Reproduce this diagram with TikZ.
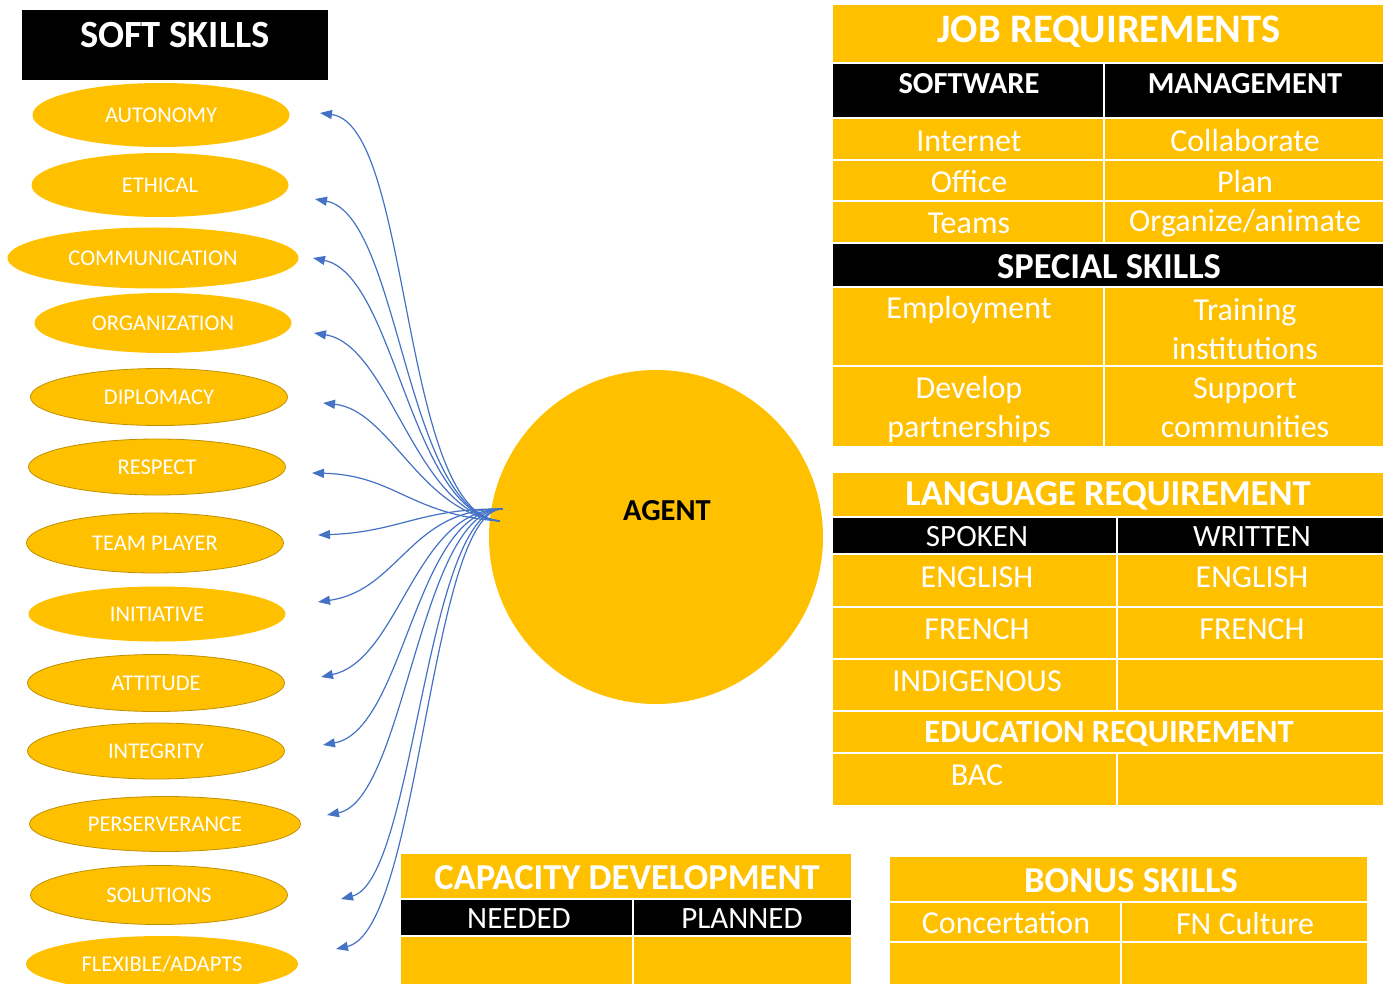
\documentclass[tikz,border=0pt]{standalone}
\usepackage{fontspec}
\setmainfont{Carlito}
\usetikzlibrary{shapes.geometric,arrows.meta}

\definecolor{gold}{HTML}{FFC000}
\definecolor{linkblue}{HTML}{4472C4}
\definecolor{rim}{HTML}{BF9000}

\tikzset{
  skill/.style={ellipse, fill=gold, text=white, inner sep=0pt, minimum width=257pt, minimum height=58pt, font=\fontsize{22.5}{26}\selectfont},
  rimmed/.style={draw=rim, line width=0.8pt},
  title/.style={text=white, font=\bfseries\fontsize{36.5}{40}\selectfont},
  head/.style={text=white, font=\bfseries\fontsize{30.5}{34}\selectfont},
  entry/.style={text=white, align=center, font=\fontsize{32}{39}\selectfont},
  grid/.style={white, line width=1.5pt},
  link/.style={linkblue, line width=1.2pt, -{Triangle[length=12pt,width=9pt]}}
}

\begin{document}
\begin{tikzpicture}[x=1pt,y=-1pt]
\useasboundingbox (0,0) rectangle (1386,984);
\clip (0,0) rectangle (1386,984);

% soft skills column
\fill[black] (22,10) rectangle (328,80);
\node[title, font=\bfseries\fontsize{38.5}{42}\selectfont] (softtitle) at (175,35) {SOFT SKILLS};

\node[skill, minimum height=64pt] (autonomy) at (161,115) {AUTONOMY};
\node[skill, minimum height=64pt] (ethical) at (160,185) {ETHICAL};
\node[skill, minimum width=291pt, minimum height=61pt] (communication) at (153,258) {COMMUNICATION};
\node[skill, minimum height=60pt] (organization) at (163,323) {ORGANIZATION};
\node[skill, rimmed, minimum height=57pt] (diplomacy) at (159,397) {DIPLOMACY};
\node[skill, rimmed, minimum height=56pt] (respect) at (157,467) {RESPECT};
\node[skill, rimmed, minimum height=60pt] (teamplayer) at (155,543) {TEAM PLAYER};
\node[skill, minimum height=55pt] (initiative) at (157,614) {INITIATIVE};
\node[skill, rimmed, minimum height=57pt] (attitude) at (156,683) {ATTITUDE};
\node[skill, rimmed, minimum height=56pt] (integrity) at (156,751) {INTEGRITY};
\node[skill, rimmed, minimum width=271pt, minimum height=55pt] (perserverance) at (165,824) {PERSERVERANCE};
\node[skill, rimmed, minimum height=59pt] (solutions) at (159,895) {SOLUTIONS};
\node[skill, minimum width=272pt, minimum height=56pt] (flexible) at (162,964) {FLEXIBLE/ADAPTS};

% job requirements
\fill[gold] (833,5) rectangle (1383,446);
\fill[black] (833,63) rectangle (1383,118);
\fill[black] (833,243) rectangle (1383,287);
\draw[grid] (833,63) -- (1383,63) (833,118) -- (1383,118) (833,160) -- (1383,160)
  (833,201) -- (1383,201) (833,243) -- (1383,243) (833,287) -- (1383,287) (833,366) -- (1383,366);
\draw[grid] (1104,63) -- (1104,243) (1104,287) -- (1104,446);
\node[title, font=\bfseries\fontsize{40.5}{44}\selectfont] (jobtitle) at (1109,32) {JOB REQUIREMENTS};
\node[head] (software) at (969,84) {SOFTWARE};
\node[head] (management) at (1245,84) {MANAGEMENT};
\node[entry] (internet) at (969,141) {Internet};
\node[entry] (collaborate) at (1245,141) {Collaborate};
\node[entry] (office) at (969,182) {Office};
\node[entry] (plan) at (1245,182) {Plan};
\node[entry] (teams) at (969,223) {Teams};
\node[entry] (organize) at (1245,223) {Organize/animate};
\node[head, font=\bfseries\fontsize{36.5}{40}\selectfont] (specialtitle) at (1109,267) {SPECIAL SKILLS};
\node[entry] (employment) at (969,310) {Employment};
\node[entry] (training) at (1245,329) {Training\\institutions};
\node[entry] (develop) at (969,409) {Develop\\partnerships};
\node[entry] (support) at (1245,408) {Support\\communities};

% language and education
\fill[gold] (833,473) rectangle (1383,805);
\fill[black] (833,517) rectangle (1383,554);
\draw[grid] (833,517) -- (1383,517) (833,554) -- (1383,554) (833,607) -- (1383,607)
  (833,659) -- (1383,659) (833,711) -- (1383,711) (833,753) -- (1383,753);
\draw[grid] (1117,517) -- (1117,711) (1117,753) -- (1117,805);
\node[title] (langtitle) at (1108,496) {LANGUAGE REQUIREMENT};
\node[entry, font=\fontsize{31}{36}\selectfont] (spoken) at (977,537) {SPOKEN};
\node[entry, font=\fontsize{31}{36}\selectfont] (written) at (1252,537) {WRITTEN};
\node[entry] (engspoken) at (977,577) {ENGLISH};
\node[entry] (engwritten) at (1252,577) {ENGLISH};
\node[entry] (frspoken) at (977,629) {FRENCH};
\node[entry] (frwritten) at (1252,629) {FRENCH};
\node[entry] (indigenous) at (977,681) {INDIGENOUS};
\node[title, font=\bfseries\fontsize{32.5}{36}\selectfont] (edutitle) at (1109,734) {EDUCATION REQUIREMENT};
\node[entry] (bac) at (977,775) {BAC};

% capacity development
\fill[gold] (401,854) rectangle (851,984);
\fill[black] (401,899) rectangle (851,936);
\draw[grid] (401,899) -- (851,899) (401,936) -- (851,936);
\draw[grid] (633,899) -- (633,984);
\node[title] (captitle) at (627,878) {CAPACITY DEVELOPMENT};
\node[entry, font=\fontsize{31}{36}\selectfont] (needed) at (519,919) {NEEDED};
\node[entry, font=\fontsize{31}{36}\selectfont] (planned) at (742,919) {PLANNED};

% bonus skills
\fill[gold] (890,857) rectangle (1367,984);
\draw[grid] (890,902) -- (1367,902) (890,942) -- (1367,942);
\draw[grid] (1121,902) -- (1121,984);
\node[title] (bonustitle) at (1131,881) {BONUS SKILLS};
\node[entry] (concertation) at (1006,923) {Concertation};
\node[entry] (fnculture) at (1245,923) {FN Culture};

% agent
\node[circle, fill=gold, minimum size=334pt, inner sep=0pt] (agent) at (656,537) {};
\node[font=\bfseries\fontsize{30.5}{34}\selectfont] (agentlabel) at (667,511) {AGENT};

% arrows from agent to skills
\coordinate (up) at ([shift={(14,-28)}]agent.west);
\coordinate (low) at ([shift={(11,-16)}]agent.west);
\coordinate (t1) at (320,113);
\coordinate (t2) at (315,199);
\coordinate (t3) at (313,258);
\coordinate (t4) at (314,333);
\coordinate (t5) at (323,403);
\coordinate (t6) at (312,473);
\coordinate (t7) at (318,535);
\coordinate (t8) at (318,602);
\coordinate (t9) at (321,677);
\coordinate (t10) at (323,745);
\coordinate (t11) at (327,815);
\coordinate (t12) at (341,899);
\coordinate (t13) at (336,949);
\draw[link] (low) .. controls (400,515) and (412,125) .. (t1);
\draw[link] (low) .. controls (405,512) and (400,215) .. (t2);
\draw[link] (low) .. controls (410,512) and (395,275) .. (t3);
\draw[link] (low) .. controls (415,512) and (390,345) .. (t4);
\draw[link] (low) .. controls (420,512) and (390,410) .. (t5);
\draw[link] (low) .. controls (410,515) and (395,475) .. (t6);
\draw[link] (up) .. controls (420,508) and (400,532) .. (t7);
\draw[link] (up) .. controls (410,508) and (400,590) .. (t8);
\draw[link] (up) .. controls (415,508) and (400,660) .. (t9);
\draw[link] (up) .. controls (415,508) and (405,730) .. (t10);
\draw[link] (up) .. controls (420,508) and (405,800) .. (t11);
\draw[link] (up) .. controls (425,508) and (415,880) .. (t12);
\draw[link] (up) .. controls (430,508) and (420,930) .. (t13);
\end{tikzpicture}
\end{document}
